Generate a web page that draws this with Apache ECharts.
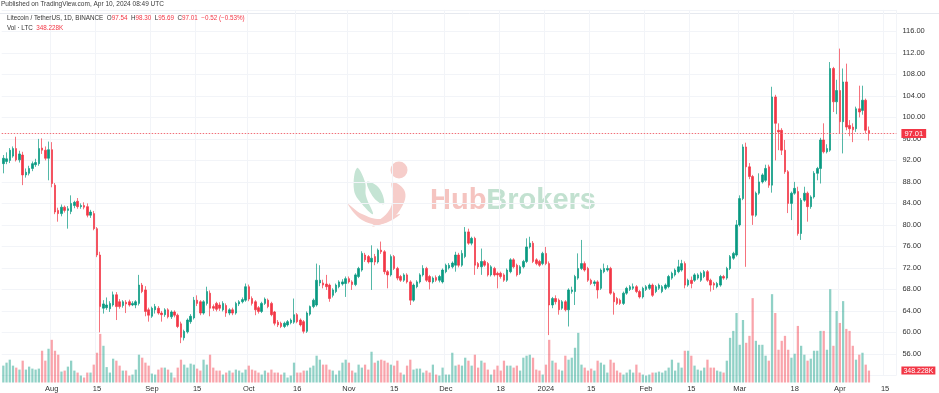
<!DOCTYPE html>
<html><head><meta charset="utf-8">
<script src="https://cdn.jsdelivr.net/npm/echarts@6/dist/echarts.min.js"></script>
<style>html,body{margin:0;padding:0;background:#fff}#c{width:939px;height:393px}</style>
</head><body><div id="c"></div><script>
// ---- data (daily candles LTC/USDT, [open, close, low, high]) ----
const startDate = [2023, 6, 17]; // 2023-07-17 (UTC, month 0-based)
const futureDays = 8;
const ohlc = [
// 0
[91.4,92.4,89.6,93.0],[91.8,92.3,91.3,93.5],[92.0,93.9,91.5,94.3],[92.8,94.2,92.5,94.6],[94.2,92.1,91.8,96.4],
[92.1,93.2,91.6,93.8],[93.0,89.3,87.4,93.6],[89.3,89.8,88.8,90.5],[89.6,90.5,89.2,91.0],[90.5,91.4,90.0,91.8],
// 10
[91.2,91.6,90.8,92.3],[91.4,94.2,91.0,96.0],[94.3,93.9,93.2,96.1],[93.9,92.4,92.0,94.6],[92.4,94.0,88.3,95.5],
[94.0,87.7,87.0,95.4],[87.4,82.4,82.0,87.8],[82.7,82.1,80.6,83.2],[82.1,83.3,81.6,83.8],[83.3,82.7,82.3,83.6],
// 20
[82.7,83.0,79.3,83.5],[82.5,84.0,82.0,85.5],[83.6,84.2,83.1,84.5],[84.4,83.4,83.0,85.0],[83.4,83.6,83.0,84.0],
[83.6,83.3,82.9,84.2],[83.4,81.8,81.4,84.0],[81.8,82.4,81.3,82.8],[82.1,79.3,79.0,82.6],[79.3,74.4,74.0,79.6],
// 30
[74.4,64.8,60.0,75.0],[64.5,65.3,63.5,66.0],[64.6,65.1,64.2,66.5],[64.4,65.4,63.8,65.8],[65.1,67.0,64.8,67.6],
[67.0,64.8,62.3,67.5],[65.7,64.8,64.4,66.2],[65.0,65.7,64.6,66.0],[65.6,65.3,63.6,66.0],[65.7,65.1,64.8,66.1],
// 40
[65.1,65.4,64.9,65.8],[65.1,65.7,64.5,66.0],[65.4,68.8,65.0,70.7],[68.8,67.6,67.3,69.2],[67.9,63.9,63.0,68.6],
[64.2,63.2,62.0,64.6],[63.0,64.5,62.7,64.8],[64.2,64.8,63.5,65.3],[64.5,63.6,63.3,64.9],[63.6,63.3,62.0,64.0],
// 50
[63.3,64.2,62.9,64.5],[64.2,62.9,62.6,64.5],[62.9,63.8,62.5,64.1],[63.8,63.2,62.8,64.1],[63.2,61.1,60.8,63.5],
[61.6,59.1,58.0,62.0],[59.0,60.2,58.5,60.5],[60.1,62.3,59.8,62.6],[62.0,63.0,61.6,63.4],[62.7,66.0,62.4,66.6],
// 60
[66.0,65.4,64.9,66.9],[65.7,63.6,63.2,66.0],[63.6,65.7,63.3,66.0],[65.4,67.6,65.0,68.5],[67.3,64.5,63.0,67.8],
[64.8,64.5,64.0,65.2],[65.4,64.3,63.9,65.7],[65.1,64.5,64.0,65.6],[64.2,65.4,63.9,65.8],[65.0,63.6,62.9,65.4],
// 70
[63.6,64.2,63.2,64.5],[64.2,63.6,63.2,64.6],[63.6,65.4,63.3,65.7],[65.3,65.7,64.9,66.0],[65.7,66.1,65.4,66.5],
[66.0,68.5,65.7,69.1],[68.5,66.2,65.8,68.9],[66.3,65.4,65.0,66.7],[65.7,64.2,63.2,66.0],[64.6,63.9,63.5,64.9],
// 80
[63.9,65.4,63.6,65.7],[65.4,66.2,65.1,66.5],[66.0,64.8,64.5,66.3],[65.4,63.3,63.0,65.7],[63.8,61.7,61.3,64.0],
[61.9,61.4,61.0,62.3],[61.7,61.1,60.8,62.0],[61.1,61.7,60.8,62.0],[61.4,62.0,61.1,62.3],[61.8,62.3,61.5,62.6],
// 90
[61.9,63.3,61.6,66.3],[63.3,62.0,61.7,63.6],[62.3,61.4,61.1,62.6],[62.0,60.2,59.8,62.3],[60.2,63.6,59.9,63.9],
[63.4,64.8,63.1,65.0],[64.8,66.0,64.5,66.3],[65.1,69.7,64.8,72.8],[69.2,69.7,68.6,72.5],[69.2,68.8,68.2,69.8],
// 100
[69.0,68.5,67.9,70.7],[68.8,66.3,65.7,69.1],[66.9,67.9,66.5,68.2],[67.6,68.8,67.3,69.1],[68.5,69.4,68.2,69.7],
[69.0,69.4,68.7,69.9],[69.1,70.0,66.6,70.4],[70.0,69.4,69.1,70.4],[69.4,68.9,67.9,69.7],[68.9,70.7,68.6,71.0],
// 110
[70.4,71.9,70.1,72.2],[71.6,74.7,71.3,75.1],[74.4,73.5,73.1,74.8],[74.1,73.1,72.8,74.4],[73.1,73.8,67.9,76.2],
[74.1,73.1,72.5,74.6],[73.1,75.3,72.8,75.6],[75.3,75.0,74.6,76.9],[75.0,71.3,70.8,75.3],[71.3,70.7,68.2,71.6],
// 120
[70.7,74.1,70.4,74.5],[74.1,71.9,71.6,74.4],[71.9,70.1,69.7,72.2],[70.4,69.7,69.4,70.7],[69.7,70.7,69.4,71.0],
[70.7,69.4,69.1,71.0],[69.4,66.0,65.1,69.7],[66.0,68.8,65.7,69.1],[68.5,69.4,68.2,69.7],[69.4,70.7,69.1,71.0],
// 130
[70.7,71.9,70.4,72.5],[71.9,69.7,69.4,72.2],[70.4,69.4,68.0,70.7],[69.4,70.1,69.1,70.4],[70.2,69.7,69.4,70.6],
[69.7,70.4,69.3,70.7],[69.4,71.6,69.1,71.9],[71.3,72.5,71.0,72.8],[72.0,72.5,71.7,72.9],[72.2,72.9,71.9,73.2],
// 140
[72.5,74.4,71.3,75.0],[74.4,72.5,72.1,74.8],[72.5,74.7,72.2,75.3],[74.1,78.7,73.8,79.6],[78.7,76.6,76.3,79.3],
[76.6,77.5,76.2,77.8],[77.5,72.5,70.7,77.8],[72.8,72.2,71.8,73.1],[72.2,73.2,70.7,75.6],[73.2,72.5,72.2,73.5],
// 150
[72.8,70.7,70.4,73.1],[70.7,72.2,70.4,72.5],[71.9,70.7,70.4,72.2],[71.0,70.7,68.2,71.3],[71.0,70.4,70.0,71.3],
[70.7,69.7,69.4,71.0],[69.7,71.6,69.4,71.9],[71.3,73.5,71.0,73.8],[73.5,72.2,71.9,73.8],[72.5,70.7,70.4,72.8],
// 160
[71.0,72.2,70.7,72.5],[72.2,73.2,71.9,73.5],[73.2,75.9,72.9,77.5],[75.9,76.6,75.6,77.8],[76.6,73.2,72.9,77.0],
[73.5,72.8,72.5,73.8],[73.2,72.5,72.2,73.5],[72.8,74.7,72.5,75.0],[74.7,72.8,72.5,75.9],[72.8,65.1,59.5,73.2],
// 170
[65.1,66.3,64.5,66.6],[66.3,65.7,65.2,66.9],[66.0,64.2,63.3,66.3],[64.5,65.7,64.2,66.0],[65.7,64.2,63.9,66.0],
[64.2,67.9,61.1,68.2],[67.6,67.9,67.2,68.5],[67.6,70.4,65.1,70.7],[70.1,71.9,69.8,74.7],[71.9,72.8,71.6,77.2],
// 180
[72.8,71.6,71.3,73.2],[71.9,69.7,69.4,72.2],[69.7,69.1,68.8,70.0],[69.1,69.4,68.6,69.7],[69.4,67.9,66.3,69.7],
[68.2,71.6,67.9,71.9],[71.3,71.9,71.0,72.8],[71.6,71.9,71.3,72.5],[71.9,67.3,67.0,72.2],[67.3,65.7,63.3,67.6],
// 190
[66.3,65.4,65.1,66.6],[66.0,65.4,65.1,66.3],[65.4,67.3,65.1,67.6],[67.3,68.2,67.0,68.5],[68.0,68.5,67.7,68.8],
[68.2,68.5,67.9,69.1],[68.5,67.6,67.3,68.8],[67.6,66.6,66.3,67.9],[66.6,68.2,66.3,68.5],[68.0,68.5,67.7,68.8],
// 200
[68.2,68.8,67.9,69.1],[68.8,66.9,66.6,69.1],[67.6,68.5,67.3,68.8],[68.2,68.8,67.9,69.1],[67.6,68.5,67.3,68.8],
[68.2,68.8,67.9,69.1],[68.5,70.4,68.2,70.7],[70.1,71.0,69.8,71.3],[70.7,71.6,70.4,71.9],[71.3,72.2,71.0,73.5],
// 210
[71.6,72.8,71.3,73.5],[72.8,68.8,68.2,73.2],[68.8,69.7,68.5,70.0],[69.7,69.1,68.2,70.4],[69.7,70.7,69.4,71.0],
[70.1,70.7,69.8,71.0],[69.7,71.0,69.4,71.3],[70.4,71.3,70.1,71.6],[71.3,69.7,69.4,71.6],[69.7,68.8,67.6,70.0],
// 220
[69.1,68.8,67.9,69.4],[68.5,69.1,68.2,69.4],[68.8,70.4,68.5,70.7],[70.4,70.1,69.8,70.7],[70.1,71.9,69.8,72.2],
[71.9,74.1,71.6,74.4],[73.8,74.7,73.5,75.0],[74.4,80.0,74.1,80.9],[80.0,84.9,79.7,85.5],[84.9,94.5,84.6,95.0],
// 230
[94.5,90.8,72.2,95.3],[90.8,89.0,88.5,91.5],[89.0,81.8,80.0,89.3],[81.8,85.9,81.5,86.2],[85.9,88.0,85.6,89.6],
[88.0,89.3,87.7,89.6],[88.3,90.5,88.0,91.2],[90.8,87.4,86.9,91.2],[87.4,103.8,86.0,105.7],[103.8,98.9,92.0,104.2],
// 240
[97.6,97.3,93.9,98.9],[97.6,93.9,93.0,98.0],[93.9,89.9,89.5,95.8],[89.9,84.0,82.2,90.2],[84.0,85.9,80.9,86.2],
[85.9,86.8,85.6,88.0],[86.2,78.4,78.0,87.1],[78.4,84.6,77.2,85.0],[84.6,85.9,84.3,87.1],[85.9,83.4,80.6,86.2],
// 250
[83.4,85.2,83.0,85.5],[85.2,89.6,84.9,90.0],[89.6,90.5,88.3,90.8],[90.5,95.8,87.7,96.2],[95.8,93.6,93.3,98.9],
[93.6,94.2,93.3,95.0],[93.9,109.1,93.6,110.3],[109.1,102.9,101.0,109.4],[102.9,105.0,100.6,107.0],[105.0,99.2,97.0,112.8],
// 260
[99.2,106.6,93.3,109.1],[106.6,98.2,97.6,110.0],[98.5,97.9,96.5,99.5],[98.2,97.7,95.4,98.9],[97.9,101.6,97.3,102.0],
[101.6,101.0,100.0,105.9],[101.3,103.2,100.5,105.9],[103.2,97.6,97.0,103.5],[97.54,97.01,95.69,98.30]
];
// volume in thousands of LTC
const volumeK = [
493,580,667,493,435,377,638,377,464,406,
377,406,928,638,986,1247,928,812,319,348,
464,638,348,290,203,145,290,290,522,870,
1421,1073,450,290,696,638,493,348,348,203,
232,377,812,725,580,493,261,232,377,435,
435,377,290,145,435,667,522,435,551,522,
406,348,667,522,812,435,348,348,232,290,
348,290,377,348,290,377,493,377,348,290,
232,348,290,377,290,290,232,290,145,203,
580,290,290,348,348,435,493,783,667,522,
522,377,348,232,348,580,667,580,348,290,
522,435,522,377,899,580,638,667,638,580,
522,493,638,290,232,493,667,377,406,406,
290,348,290,522,232,203,435,232,232,870,
493,522,493,725,638,493,812,435,638,580,
377,232,377,493,348,638,493,493,435,493,
348,725,783,812,725,377,348,232,522,1247,
638,580,377,348,783,667,725,1015,1450,522,
435,348,406,348,638,580,522,290,667,580,
348,290,232,290,377,290,522,290,232,203,
232,290,290,319,290,348,435,667,348,580,
435,928,928,783,493,377,348,435,667,435,
435,348,319,290,638,1305,1508,2030,1102,1827,
1160,1363,2465,1218,1102,1102,783,638,2581,2030,
957,1218,1363,957,725,841,1653,1073,812,638,
696,928,928,1508,1508,957,2726,1073,2088,1740,
2378,1566,1508,1073,667,812,870,522,348.228
];
const tickDates = ['2023-08-01','2023-08-15','2023-09-01','2023-09-15','2023-10-01','2023-10-16','2023-11-01','2023-11-15','2023-12-01','2023-12-18','2024-01-01','2024-01-15','2024-02-01','2024-02-15','2024-03-01','2024-03-18','2024-04-01','2024-04-15'];
const tickLabels = ['Aug','15','Sep','15','Oct','16','Nov','15','Dec','18','2024','15','Feb','15','Mar','18','Apr','15'];
const lastClose = 97.01;
const lastVolume = 348.228;
const lastVolumeText = '348.228K';

// ---- build ----
const UP = '#089981', DOWN = '#f23645';
const FONT = '"Liberation Sans", Arial, sans-serif';
const dates = [];
const t0 = Date.UTC(startDate[0], startDate[1], startDate[2]);
for (let i = 0; i < ohlc.length + futureDays; i++) {
  dates.push(new Date(t0 + i * 86400000).toISOString().slice(0, 10));
}
const tickMap = {};
tickDates.forEach((d, i) => { tickMap[d] = tickLabels[i]; });
const isTick = (idx, val) => tickMap[val] !== undefined;

const volData = volumeK.map((v, i) => ({
  value: v,
  itemStyle: { color: ohlc[i][1] >= ohlc[i][0] ? 'rgba(8,153,129,0.45)' : 'rgba(242,54,69,0.45)' }
}));

const chart = echarts.init(document.getElementById('c'), null, { renderer: 'canvas' });
const L = 1.7, R = 42.6;
const PINK = '#f6cdca', GREEN = '#c5e4d4';
chart.setOption({
  animation: false,
  backgroundColor: '#ffffff',
  textStyle: { fontFamily: FONT },
  grid: [
    { left: L, right: R, top: 9.9, bottom: 17.6 },
    { left: L, right: R, top: 184, bottom: 9 }
  ],
  xAxis: [
    { type: 'category', gridIndex: 0, data: dates, boundaryGap: true,
      axisLine: { show: false }, axisTick: { show: false }, axisLabel: { show: false },
      splitLine: { show: true, interval: isTick, lineStyle: { color: '#f2f4f8', width: 1 } } },
    { type: 'category', gridIndex: 1, data: dates, boundaryGap: true,
      axisLine: { show: false }, axisTick: { show: false }, splitLine: { show: false },
      axisLabel: { interval: isTick, formatter: v => tickMap[v] || '', fontSize: 7.5, color: '#333', margin: 2.5, fontFamily: FONT } }
  ],
  yAxis: [
    { type: 'value', gridIndex: 0, position: 'right', min: 52, max: 120, interval: 4,
      axisLine: { show: false }, axisTick: { show: false },
      axisLabel: { formatter: v => (v >= 56 && v <= 116) ? v.toFixed(2) : '', fontSize: 7.5, color: '#333', margin: 6, fontFamily: FONT },
      splitLine: { lineStyle: { color: '#f2f4f8', width: 1 } } },
    { type: 'value', gridIndex: 1, min: 0, max: 5800, show: false }
  ],
  series: [
    { type: 'bar', xAxisIndex: 1, yAxisIndex: 1, data: volData, barWidth: '70%', z: 1,
      markLine: { silent: true, symbol: ['none', 'none'], data: [{ yAxis: lastVolume }],
        lineStyle: { color: 'rgba(0,0,0,0)', width: 0 },
        label: { position: 'end', formatter: lastVolumeText, color: '#fff', backgroundColor: DOWN,
          fontSize: 7, padding: [1, 2, 0, 2], distance: 5, fontFamily: FONT } } },
    { type: 'candlestick', xAxisIndex: 0, yAxisIndex: 0, data: ohlc, barWidth: 2, z: 3,
      itemStyle: { color: UP, color0: DOWN, borderColor: UP, borderColor0: DOWN, borderWidth: 0.7 },
      markLine: { silent: true, symbol: ['none', 'none'], data: [{ yAxis: lastClose }],
        lineStyle: { color: '#f0707a', type: [1.5, 1.5], width: 1 },
        label: { position: 'end', formatter: lastClose.toFixed(2), color: '#fff', backgroundColor: DOWN,
          fontSize: 7.5, padding: [1, 3, 0, 3], distance: 5, fontFamily: FONT } } }
  ],
  graphic: [
    { type: 'line', z: 0, shape: { x1: 0, y1: 13.5, x2: 939, y2: 13.5 }, style: { stroke: '#e6e9ef', lineWidth: 1 } },
    { type: 'text', z: 10, x: 1, y: 1,
      style: { text: 'Published on TradingView.com, Apr 10, 2024 08:49 UTC', font: '6.5px ' + FONT, fill: '#3a3a3a' } },
    { type: 'text', z: 10, x: 7, y: 15.5,
      style: { text: '{a|Litecoin / TetherUS, 1D, BINANCE}  {a|O}{b|97.54}  {a|H}{b|98.30}  {a|L}{b|95.69}  {a|C}{b|97.01}  {b|\u22120.52 (\u22120.53%)}',
        font: '6.3px ' + FONT,
        rich: { a: { fill: '#333', font: '6.3px ' + FONT }, b: { fill: DOWN, font: '6.3px ' + FONT } } } },
    { type: 'text', z: 10, x: 7, y: 25,
      style: { text: '{a|Vol \u00b7 LTC}  {b|348.228K}', font: '6.3px ' + FONT,
        rich: { a: { fill: '#333', font: '6.3px ' + FONT }, b: { fill: DOWN, font: '6.3px ' + FONT } } } },
    // watermark
    { type: 'circle', z: 0, shape: { cx: 399, cy: 170, r: 8.5 }, style: { fill: PINK } },
    { type: 'polygon', z: 0, shape: { smooth: 0.4, points: [[392,182],[405,192],[400,210],[386,222],[372,226],[388,212],[393,198]] }, style: { fill: PINK } },
    { type: 'polygon', z: 0, shape: { smooth: 0.4, points: [[357,168],[354,190],[362,204],[373,214],[366,196],[365,182]] }, style: { fill: GREEN } },
    { type: 'polygon', z: 0, shape: { smooth: 0.4, points: [[367,182],[379,188],[384,204],[374,198]] }, style: { fill: GREEN } },
    { type: 'polygon', z: 0, shape: { smooth: 0.4, points: [[348,204],[362,220],[382,224],[400,214],[380,219],[362,214]] }, style: { fill: PINK } },
    { type: 'text', z: 0, x: 430, y: 186,
      style: { text: '{h|Hub}{b|Brokers}', font: 'bold 29px ' + FONT,
        rich: { h: { fill: '#f5c4c0', font: 'bold 29px ' + FONT }, b: { fill: '#c2e1d0', font: 'bold 29px ' + FONT } } } }
  ]
});
</script></body></html>
